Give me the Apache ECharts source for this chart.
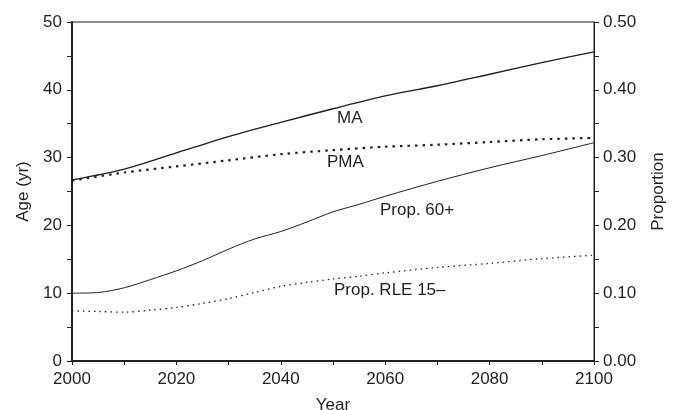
<!DOCTYPE html>
<html><head><meta charset="utf-8">
<script src="https://cdn.jsdelivr.net/npm/echarts@6/dist/echarts.min.js"></script>
<style>html,body{margin:0;padding:0;background:#fff}#c{width:675px;height:410px}</style>
</head><body><div id="c"></div>
<script>
const years10 = [2000, 2010, 2020, 2030, 2040, 2050, 2060, 2070, 2080, 2090, 2100];
const maValues = [26.7, 28.3, 30.7, 33.1, 35.2, 37.2, 39.1, 40.6, 42.3, 44.0, 45.6];
const pmaValues = [26.6, 27.8, 28.7, 29.6, 30.5, 31.1, 31.6, 31.9, 32.3, 32.7, 32.9];
const years5 = [2000, 2005, 2010, 2015, 2020, 2025, 2030, 2035, 2040, 2045, 2050, 2055, 2060, 2070, 2080, 2090, 2100];
const prop60Values = [0.100, 0.101, 0.108, 0.120, 0.133, 0.148, 0.165, 0.180, 0.191, 0.205, 0.220, 0.231, 0.243, 0.265, 0.285, 0.303, 0.322];
const rleValues = [0.074, 0.073, 0.072, 0.075, 0.079, 0.085, 0.092, 0.101, 0.110, 0.116, 0.121, 0.125, 0.130, 0.138, 0.144, 0.151, 0.156];
const seriesLabels = ['MA', 'PMA', 'Prop. 60+', 'Prop. RLE 15\u2013'];
const xTickLabels = ['2000', '2020', '2040', '2060', '2080', '2100'];

const pair = (xs, ys) => xs.map((x, i) => [x, ys[i]]);
const font = 'Liberation Sans, Arial, sans-serif';
const ink = '#231f20';
const fs = 17;
const chart = echarts.init(document.getElementById('c'), null, {renderer: 'canvas'});
chart.setOption({
  animation: false,
  grid: {left: 72, right: 81, top: 22, bottom: 49, show: true, borderColor: ink, borderWidth: 1,
    containLabel: false, outerBoundsMode: 'none'},
  xAxis: {
    type: 'value', min: 2000, max: 2100, interval: 10,
    name: 'Year', nameLocation: 'middle', nameGap: 36,
    nameTextStyle: {fontFamily: font, fontSize: fs, color: ink},
    axisLine: {show: true, lineStyle: {color: ink, width: 2}},
    axisTick: {show: true, length: 4, lineStyle: {color: ink, width: 1}},
    splitLine: {show: false},
    axisLabel: {fontFamily: font, fontSize: fs, color: ink, margin: 10,
      formatter: v => xTickLabels.includes(String(v)) ? String(v) : ''}
  },
  yAxis: [{
    type: 'value', min: 0, max: 50, interval: 5, position: 'left',
    name: 'Age (yr)', nameLocation: 'middle', nameGap: 34,
    nameTextStyle: {fontFamily: font, fontSize: fs, color: ink},
    axisLine: {show: true, lineStyle: {color: ink, width: 2}},
    axisTick: {show: true, length: 5, lineStyle: {color: ink, width: 1}},
    splitLine: {show: false},
    axisLabel: {fontFamily: font, fontSize: fs, color: ink, margin: 10,
      formatter: v => v % 10 === 0 ? String(v) : ''}
  }, {
    type: 'value', min: 0, max: 0.5, interval: 0.05, position: 'right',
    name: 'Proportion', nameLocation: 'middle', nameGap: 56,
    nameTextStyle: {fontFamily: font, fontSize: fs, color: ink},
    axisLine: {show: true, lineStyle: {color: ink, width: 1}},
    axisTick: {show: true, length: 5, lineStyle: {color: ink, width: 1}},
    splitLine: {show: false},
    axisLabel: {fontFamily: font, fontSize: fs, color: ink, margin: 9,
      formatter: v => Math.round(v * 100) % 10 === 0 ? v.toFixed(2) : ''}
  }],
  series: [
    {name: seriesLabels[0], type: 'line', yAxisIndex: 0, smooth: 0.3, symbol: 'none',
      data: pair(years10, maValues), lineStyle: {color: ink, width: 1.4}},
    {name: seriesLabels[1], type: 'line', yAxisIndex: 0, smooth: 0.3, symbol: 'none',
      data: pair(years10, pmaValues), lineStyle: {color: ink, width: 2.2, type: [2.5, 5]}},
    {name: seriesLabels[2], type: 'line', yAxisIndex: 1, smooth: 0.3, symbol: 'none',
      data: pair(years5, prop60Values), lineStyle: {color: ink, width: 1}},
    {name: seriesLabels[3], type: 'line', yAxisIndex: 1, smooth: 0.3, symbol: 'none',
      data: pair(years5, rleValues), lineStyle: {color: ink, width: 1.3, type: [1.5, 4]}}
  ],
  graphic: [
    {type: 'text', left: 337, top: 110, style: {text: seriesLabels[0], font: fs + 'px ' + font, fill: ink}},
    {type: 'text', left: 327, top: 154, style: {text: seriesLabels[1], font: fs + 'px ' + font, fill: ink}},
    {type: 'text', left: 380, top: 202, style: {text: seriesLabels[2], font: fs + 'px ' + font, fill: ink}},
    {type: 'text', left: 334, top: 282, style: {text: seriesLabels[3], font: fs + 'px ' + font, fill: ink}}
  ]
});
</script></body></html>
